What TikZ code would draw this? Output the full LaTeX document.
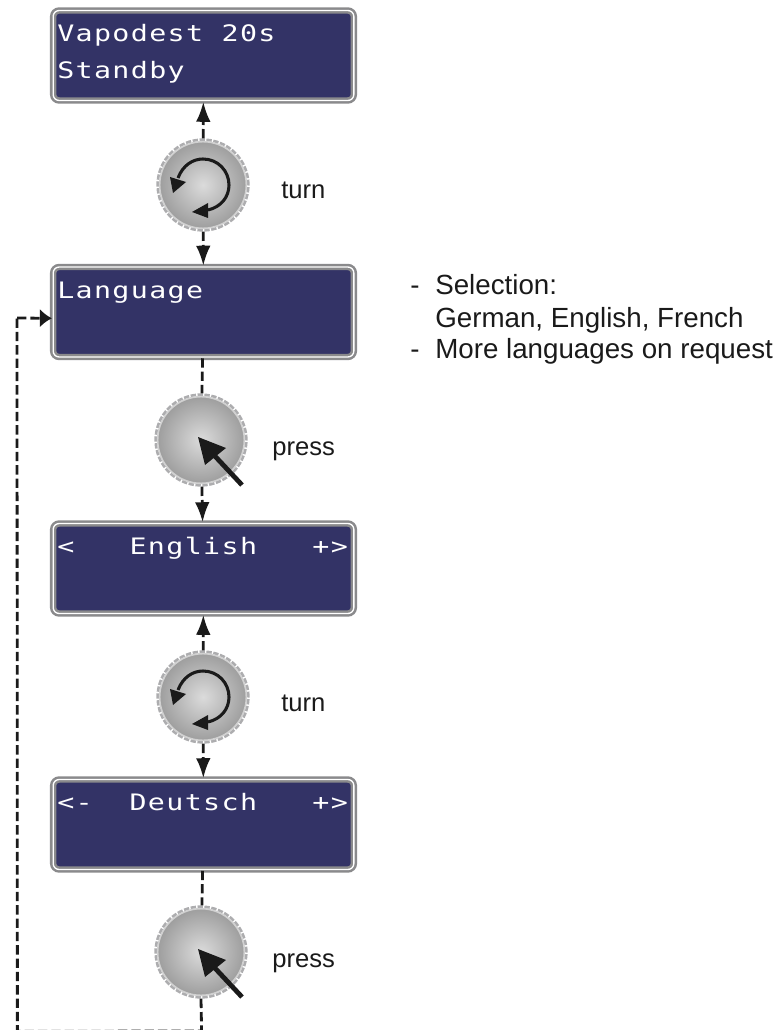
\documentclass[tikz,border=0pt]{standalone}
\usepackage{fontspec}
\setmainfont{Liberation Sans}
\newfontfamily\lcdfont[FakeStretch=1.25,LetterSpace=6]{DejaVu Sans Mono}
\usetikzlibrary{arrows.meta,shapes.geometric}
\definecolor{lcdnavy}{HTML}{333366}
\definecolor{rimgray}{HTML}{8A8A8C}
\definecolor{inkblack}{HTML}{1A1A1A}
\tikzset{
  x=0.75pt,y=-0.75pt,
  lcdbox/.style={rectangle,draw=rimgray,line width=1.9pt,double=white,double distance=1pt,
    fill=lcdnavy,rounded corners=4.5pt,minimum width=225.5pt,minimum height=67.5pt,inner sep=0pt},
  lcdtext/.style={anchor=base west,inner sep=0pt,text=white,font=\lcdfont\fontsize{17pt}{18pt}\selectfont},
  knobrim/.style={circle,draw=rimgray!70,line width=2pt,dash pattern=on 4pt off 1.2pt,fill=white,minimum size=68pt,inner sep=0pt},
  knobface/.style={circle,draw=black!18,line width=1.2pt,inner color=black!14,outer color=black!38,minimum size=65pt,inner sep=0pt},
  conn/.style={draw=inkblack,line width=2.1pt,dash pattern=on 7pt off 3pt},
  head/.style={conn,-{Latex[length=15pt,width=11pt]}},
  sidehead/.style={conn,-{Latex[length=9pt,width=14pt]}},
  knoblabel/.style={anchor=base west,inner sep=0pt,text=inkblack,font=\fontsize{19.2pt}{20pt}\selectfont},
  sidelabel/.style={anchor=base west,inner sep=0pt,text=inkblack,font=\fontsize{20.8pt}{22pt}\selectfont},
}
\newcommand{\knob}[3]{%
  \node[knobrim] (#1) at (#2,#3) {};
  \node[knobface] (#1f) at (#2,#3) {};
}
\newcommand{\turnmark}[2]{%
  \begin{scope}[shift={(#1,#2)}]
    \draw[inkblack,line width=2.3pt] (-25,-7) .. controls (-20,-20) and (-10,-26) .. (0,-26)
      .. controls (15,-26) and (26,-14) .. (26,0) .. controls (26,12) and (18,22) .. (5,25);
    \fill[inkblack] (-30,8) -- (-33,-8) -- (-17,-3) -- cycle;
    \fill[inkblack] (-11,27) -- (5,18) -- (5,33) -- cycle;
  \end{scope}}
\newcommand{\pressmark}[2]{%
  \begin{scope}[shift={(#1,#2)}]
    \draw[inkblack,line width=3.6pt] (12,14) -- (41,45);
    \fill[inkblack] (-3,-3) -- (4,25) -- (25,8) -- cycle;
  \end{scope}}
\begin{document}
\begin{tikzpicture}
\useasboundingbox (0,0) rectangle (778,1030);
\node[lcdbox] (b1) at (203.5,55.5) {};
\node[lcdbox] (b2) at (203.5,312) {};
\node[lcdbox] (b3) at (203.5,568.5) {};
\node[lcdbox] (b4) at (203.5,824.5) {};
\knob{k1}{203}{185}
\knob{k2}{201}{440}
\knob{k3}{203}{697}
\knob{k4}{201}{952}
\coordinate (low) at (201.6,1031);
\coordinate (corner) at (17.4,1031.3);
\coordinate (entry) at (17,318);
\coordinate (target) at (b2.west |- 0,318.3);
\draw[head] (k1) -- (b1);
\draw[head] (k1) -- (b2);
\draw[conn] (b2) -- (k2);
\draw[head] (k2) -- (b3);
\draw[head] (k3) -- (b3);
\draw[head] (k3) -- (b4);
\draw[conn] (b4) -- (k4);
\draw[conn] (k4.south) -- (low) -- (corner) -- (entry);
\draw[sidehead] (entry) -- (target);
\turnmark{203}{185}
\pressmark{201}{440}
\turnmark{203}{697}
\pressmark{201}{952}
\node[lcdtext] (t1) at (57,41.5) {Vapodest 20s};
\node[lcdtext] (t2) at (57,79) {Standby};
\node[lcdtext] (t3) at (57,299) {Language};
\node[lcdtext] (t4) at (57,554) {<\ \ \ English\ \ \ +>};
\node[lcdtext] (t5) at (57,810) {<-\ \ Deutsch\ \ \ +>};
\node[knoblabel] (l1) at (281,199) {turn};
\node[knoblabel] (l2) at (272,455) {press};
\node[knoblabel] (l3) at (281,711) {turn};
\node[knoblabel] (l4) at (272,967) {press};
\node[sidelabel] (r1) at (410,295) {-};
\node[sidelabel] (r2) at (435,295) {Selection:};
\node[sidelabel] (r3) at (435,327) {German, English, French};
\node[sidelabel] (r4) at (410,358) {-};
\node[sidelabel] (r5) at (435,358) {More languages on request};
\end{tikzpicture}
\end{document}
